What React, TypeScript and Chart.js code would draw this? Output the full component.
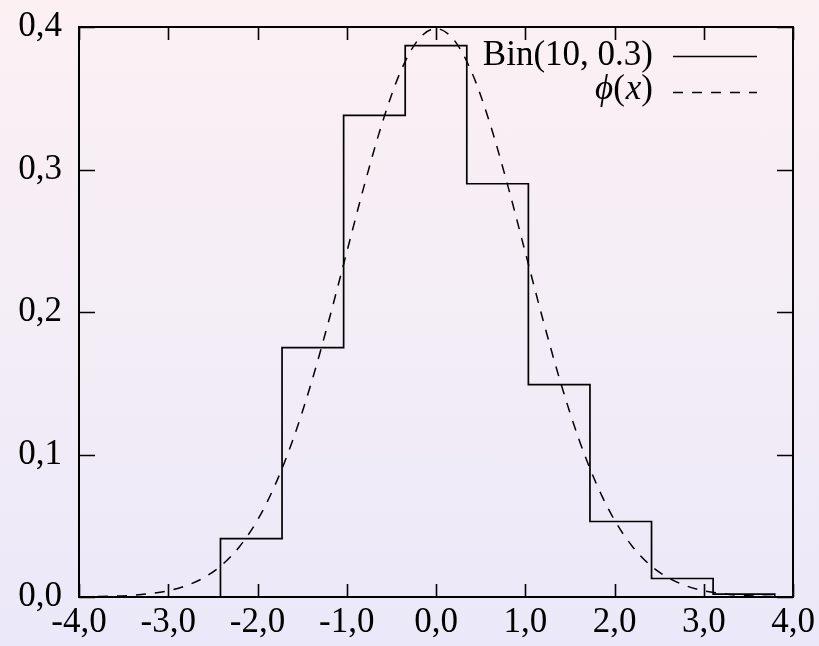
import React, { useEffect, useRef } from "react";
import { Chart, registerables } from "chart.js";

Chart.register(...registerables);

// ---- data ----
const xTicks = [-4, -3, -2, -1, 0, 1, 2, 3, 4];
const yTicks = [0, 0.1, 0.2, 0.3, 0.4];

// histogram bin edges (standardised) and bar heights
const binEdges = [-2.415, -1.725, -1.035, -0.345, 0.345, 1.035, 1.725, 2.415, 3.105, 3.795];
const binHeights = [0.041, 0.175, 0.338, 0.387, 0.29, 0.149, 0.053, 0.013, 0.002];

// dashed density curve samples
const normX = [
  -4.0, -3.8, -3.6, -3.4, -3.2, -3.0, -2.8, -2.6, -2.4, -2.2, -2.0, -1.8, -1.6, -1.4,
  -1.2, -1.0, -0.8, -0.6, -0.4, -0.2, 0.0, 0.2, 0.4, 0.6, 0.8, 1.0, 1.2, 1.4, 1.6, 1.8,
  2.0, 2.2, 2.4, 2.6, 2.8, 3.0, 3.2, 3.4, 3.6, 3.8, 4.0,
];
const normY = [
  0.0001, 0.0003, 0.0006, 0.0012, 0.0024, 0.0044, 0.0079, 0.0136, 0.0224, 0.0355,
  0.054, 0.079, 0.1109, 0.1497, 0.1942, 0.242, 0.2897, 0.3332, 0.3683, 0.391, 0.3989,
  0.391, 0.3683, 0.3332, 0.2897, 0.242, 0.1942, 0.1497, 0.1109, 0.079, 0.054, 0.0355,
  0.0224, 0.0136, 0.0079, 0.0044, 0.0024, 0.0012, 0.0006, 0.0003, 0.0001,
];

const legendBin = "Bin(10, 0.3)";
const legendPhi = ["ϕ", "(", "x", ")"];

const FONT = '"Liberation Serif", "DejaVu Serif", serif';
const DASH = [10, 9];

const fmt = (v: number) => v.toFixed(1).replace(".", ",");

const framePlugin = {
  id: "frame",
  afterDatasetsDraw(chart: any) {
    const { ctx, chartArea: a, scales } = chart;
    const x = scales.x;
    const y = scales.y;
    ctx.save();
    ctx.strokeStyle = "#000";
    ctx.lineWidth = 1.6;
    ctx.beginPath();
    xTicks.forEach((v) => {
      const px = Math.round(x.getPixelForValue(v)) + 0.5;
      ctx.moveTo(px, a.bottom);
      ctx.lineTo(px, a.bottom - 13);
      ctx.moveTo(px, a.top);
      ctx.lineTo(px, a.top + 13);
    });
    yTicks.forEach((v) => {
      const py = Math.round(y.getPixelForValue(v)) + 0.5;
      ctx.moveTo(a.left, py);
      ctx.lineTo(a.left + 16, py);
      ctx.moveTo(a.right, py);
      ctx.lineTo(a.right - 16, py);
    });
    ctx.stroke();
    ctx.lineWidth = 2;
    ctx.strokeRect(a.left, a.top, a.right - a.left, a.bottom - a.top);

    // legend
    ctx.fillStyle = "#000";
    ctx.textAlign = "right";
    ctx.textBaseline = "alphabetic";
    ctx.font = `35px ${FONT}`;
    const textRight = 653;
    ctx.fillText(legendBin, textRight, 65);
    ctx.lineWidth = 1.7;
    ctx.beginPath();
    ctx.moveTo(673, 56.5);
    ctx.lineTo(757, 56.5);
    ctx.stroke();

    // ϕ(x) drawn right to left, italic for symbols
    let cx = textRight;
    for (let i = legendPhi.length - 1; i >= 0; i--) {
      const s = legendPhi[i];
      const italic = s === "ϕ" || s === "x";
      ctx.font = `${italic ? "italic " : ""}35px ${FONT}`;
      ctx.fillText(s, cx, 99);
      cx -= ctx.measureText(s).width + (italic ? 1 : 0);
    }
    ctx.setLineDash(DASH);
    ctx.beginPath();
    ctx.moveTo(673, 92.5);
    ctx.lineTo(757, 92.5);
    ctx.stroke();
    ctx.restore();
  },
};

export default function App() {
  const ref = useRef<HTMLCanvasElement | null>(null);

  useEffect(() => {
    document.body.style.margin = "0";
    const canvas = ref.current;
    if (!canvas) return;

    // outline: up at first edge, across each bin, down at last edge
    const histPoints: { x: number; y: number }[] = [{ x: binEdges[0], y: 0 }];
    binHeights.forEach((h, i) => histPoints.push({ x: binEdges[i], y: h }));
    histPoints.push({ x: binEdges[binEdges.length - 1], y: 0 });

    const normPoints = normX.map((xv, i) => ({ x: xv, y: normY[i] }));

    const tickFont = { family: FONT, size: 35 };

    const chart = new Chart(canvas, {
      type: "scatter",
      data: {
        datasets: [
          {
            label: "Bin(10, 0.3)",
            data: histPoints,
            showLine: true,
            stepped: "before",
            borderColor: "#000",
            borderWidth: 1.7,
            pointRadius: 0,
            fill: false,
          } as any,
          {
            label: "φ(x)",
            data: normPoints,
            showLine: true,
            borderColor: "#000",
            borderWidth: 1.5,
            borderDash: DASH,
            cubicInterpolationMode: "monotone",
            pointRadius: 0,
            fill: false,
          } as any,
        ],
      },
      options: {
        animation: false,
        responsive: false,
        layout: { padding: { top: 27, right: 26, left: 0, bottom: 0 } },
        plugins: {
          legend: { display: false },
          tooltip: { enabled: false },
        },
        scales: {
          x: {
            type: "linear",
            min: -4,
            max: 4,
            grid: { display: false, drawTicks: false },
            border: { display: false },
            ticks: {
              color: "#000",
              font: tickFont,
              padding: 5,
              maxRotation: 0,
              autoSkip: false,
              callback: (v: any) => fmt(Number(v)),
            },
            afterBuildTicks: (s: any) => {
              s.ticks = xTicks.map((v) => ({ value: v }));
            },
            afterFit: (s: any) => {
              s.height = 49;
              s.paddingLeft = 0;
              s.paddingRight = 0;
            },
          },
          y: {
            type: "linear",
            min: 0,
            max: 0.4,
            grid: { display: false, drawTicks: false },
            border: { display: false },
            ticks: {
              color: "#000",
              font: tickFont,
              padding: 17,
              autoSkip: false,
              callback: (v: any) => fmt(Number(v)),
            },
            afterBuildTicks: (s: any) => {
              s.ticks = yTicks.map((v) => ({ value: v }));
            },
            afterFit: (s: any) => {
              s.width = 79;
              s.paddingTop = 0;
              s.paddingBottom = 0;
            },
          },
        },
      } as any,
      plugins: [framePlugin],
    });

    return () => chart.destroy();
  }, []);

  return (
    <div
      style={{
        position: "fixed",
        left: 0,
        top: 0,
        width: 819,
        height: 646,
        background: "linear-gradient(to bottom, #fcf0f3 0%, #f3edf6 50%, #ebe8f9 100%)",
      }}
    >
      <canvas ref={ref} width={819} height={646} style={{ display: "block" }} />
    </div>
  );
}
